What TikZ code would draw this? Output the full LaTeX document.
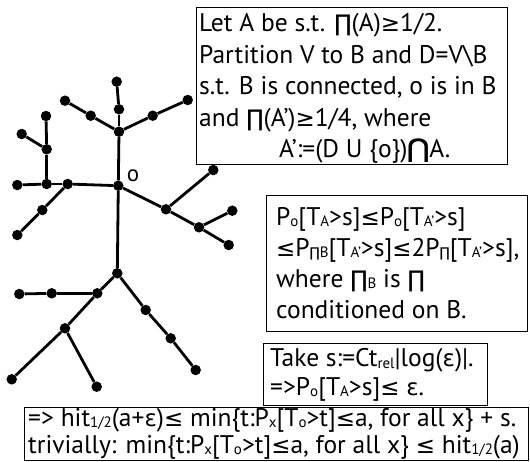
\documentclass[tikz,border=0pt]{standalone}
\usepackage{fontspec}
\setmainfont{PT Sans}
\newfontfamily\symf{DejaVu Sans}[Scale=0.9]
\newfontfamily\symbf{DejaVu Sans Bold}
\newcommand\lo[1]{{\fontsize{15}{15}\selectfont\raisebox{-1.5pt}{#1}}}
\newcommand\LE{{\symf ≤}}
\newcommand\GE{{\symf ≥}}
\newcommand\PI{{\symf ∏}}
\newcommand\EPS{{\symf ε}}
\newcommand\CAP{{\symbf\fontsize{26}{26}\selectfont ⋂}}
\begin{document}
\begin{tikzpicture}[x=1pt,y=-1pt,
  dot/.style={circle,fill=black,inner sep=0pt,minimum size=10.5pt},
  edge/.style={line width=2.8pt},
  box/.style={draw,line width=1.4pt,anchor=north west,inner sep=0pt},
  txt/.style={anchor=base west,align=left,inner sep=0pt,
    font=\fontsize{25.5}{31.5}\selectfont}]
\useasboundingbox[fill=white] (0,0) rectangle (530,461);

% tree vertices
\foreach \n/\x/\y in {o/118.3/185.7, t1/119/131.7, t2/119/109.3, t3/116.7/81.7,
  tl1/90.7/115.7, tl2/65/100.7, tr1/152.7/115.7, tr2/187.7/100,
  l1/67.7/184, l2/46.7/184, l3/17.3/185, l4/46.7/149.3, l5/46/116, l6/21.7/134,
  l7/42.3/210, l8/17.3/235,
  r1/166/209.3, r2/213.3/170, r3/199/227.3, r4/232.3/210.7, r5/228.7/245,
  d0/117.3/273.3, d1/97.3/293.3, d2/51.7/293.3, d3/19.3/294, d4/65/328.3,
  d5/11.7/379.3, d6/96.7/386.7, d7/145.7/310, d8/170.7/338.3, d9/195.7/370}
  \node[dot] (\n) at (\x,\y) {};

% tree edges
\foreach \a/\b in {o/t1, t1/t2, t2/t3, t1/tl1, tl1/tl2, t1/tr1, tr1/tr2,
  o/l1, l1/l2, l2/l3, l2/l4, l4/l5, l4/l6, l1/l7, l7/l8,
  o/r1, r1/r2, r1/r3, r3/r4, r3/r5,
  o/d0, d0/d1, d1/d2, d2/d3, d1/d4, d4/d5, d4/d6, d0/d7, d7/d8, d8/d9}
  \draw[edge] (\a) -- (\b);

\node[font=\fontsize{23}{23}\selectfont,inner sep=0pt] (olab) at (133,176) {o};

% text boxes; each text is placed by the baseline of its last line
\node[box,minimum width=311pt,minimum height=157pt] (b1) at (195.5,7) {};
\node[txt] (t1txt) at (199,157.5) {Let A be s.t. \PI(A)\GE1/2.\\
Partition V to B and D=V\textbackslash B\\
s.t. B is connected, o is in B\\
and \PI(A')\GE1/4, where\\
\hspace*{80pt}A':=(D U \{o\})\CAP A.};

\node[box,minimum width=261pt,minimum height=136pt] (b2) at (266,195) {};
\node[txt,font=\fontsize{25.5}{31}\selectfont] (t2txt) at (276,318) {P\lo{o}[T\lo{A}>s]\LE P\lo{o}[T\lo{A'}>s]\\
\LE P\lo{\PI B}[T\lo{A'}>s]\LE2P\lo{\PI}[T\lo{A'}>s],\\
where \PI\lo{B} is \PI\\
conditioned on B.};

\node[box,minimum width=224pt,minimum height=62pt] (b3) at (263,343) {};
\node[txt,font=\fontsize{25.5}{28.3}\selectfont] (t3txt) at (270,395) {Take s:=Ct\lo{rel}|log(\EPS)|.\\
=>P\lo{o}[T\lo{A}>s]\LE{} \EPS.};

\node[box,minimum width=504pt,minimum height=53pt] (b4) at (24,407) {};
\node[txt,font=\fontsize{25.5}{27}\selectfont] (t4txt) at (28,453) {=> hit\lo{1/2}(a+\EPS)\LE{} min\{t:P\lo{x}[T\lo{o}>t]\LE a, for all x\} + s.\\
trivially: min\{t:P\lo{x}[T\lo{o}>t]\LE a, for all x\} \LE{} hit\lo{1/2}(a)};
\end{tikzpicture}
\end{document}
